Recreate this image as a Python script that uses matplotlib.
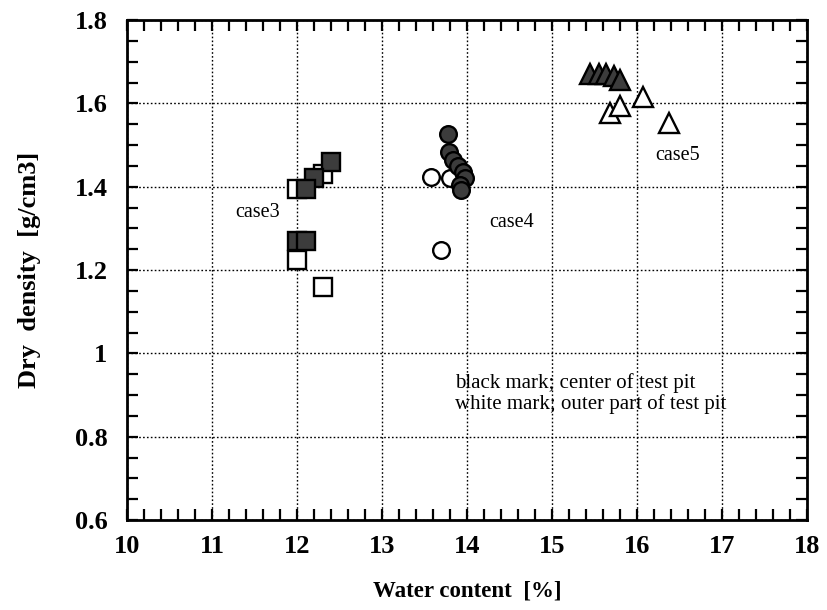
import matplotlib
matplotlib.use("Agg")
import matplotlib.pyplot as plt
from matplotlib.ticker import MultipleLocator, FixedLocator

# Water content [%] and dry density [g/cm3] for each test case
case3_center_w = [12.4, 12.2, 12.1, 12.0, 12.1]
case3_center_d = [1.46, 1.42, 1.395, 1.27, 1.27]
case3_outer_w = [12.3, 12.0, 12.0, 12.3]
case3_outer_d = [1.43, 1.395, 1.225, 1.16]

case4_center_w = [13.78, 13.79, 13.84, 13.90, 13.95, 13.98, 13.92, 13.93]
case4_center_d = [1.527, 1.483, 1.465, 1.450, 1.435, 1.420, 1.405, 1.393]
case4_outer_w = [13.58, 13.80, 13.69]
case4_outer_d = [1.423, 1.422, 1.248]

case5_center_w = [15.45, 15.55, 15.64, 15.73, 15.80]
case5_center_d = [1.670, 1.670, 1.670, 1.665, 1.655]
case5_outer_w = [15.68, 15.80, 16.07, 16.38]
case5_outer_d = [1.577, 1.594, 1.615, 1.553]

x_ticks = [10, 11, 12, 13, 14, 15, 16, 17, 18]
y_ticks = [0.6, 0.8, 1.0, 1.2, 1.4, 1.6, 1.8]
y_tick_labels = ["0.6", "0.8", "1", "1.2", "1.4", "1.6", "1.8"]

serif = ["Liberation Serif", "DejaVu Serif"]
plt.rcParams["font.family"] = serif

fig = plt.figure(figsize=(8.28, 6.10), dpi=100)
ax = fig.add_axes([0.1534, 0.1475, 0.8212, 0.8197])

fill = "#3c3c3c"
ew = 1.7

# outer-part (white) marks first, center (black) marks drawn over them
ax.plot(case3_outer_w, case3_outer_d, ls="none", marker="s", ms=12.5, mfc="white", mec="black", mew=ew, zorder=3)
ax.plot(case3_center_w, case3_center_d, ls="none", marker="s", ms=12.5, mfc=fill, mec="black", mew=ew, zorder=4)

ax.plot(case4_outer_w, case4_outer_d, ls="none", marker="o", ms=12, mfc="white", mec="black", mew=ew, zorder=3)
ax.plot(case4_center_w, case4_center_d, ls="none", marker="o", ms=12, mfc=fill, mec="black", mew=ew, zorder=4)

ax.plot(case5_outer_w, case5_outer_d, ls="none", marker="^", ms=14, mfc="white", mec="black", mew=ew, zorder=3)
ax.plot(case5_center_w, case5_center_d, ls="none", marker="^", ms=14, mfc=fill, mec="black", mew=ew, zorder=4)

ax.set_xlim(10, 18)
ax.set_ylim(0.6, 1.8)
ax.xaxis.set_major_locator(FixedLocator(x_ticks))
ax.yaxis.set_major_locator(FixedLocator(y_ticks))
ax.set_yticklabels(y_tick_labels)
ax.xaxis.set_minor_locator(MultipleLocator(0.2))
ax.yaxis.set_minor_locator(MultipleLocator(0.05))

ax.grid(True, which="major", color="black", linestyle=(0, (1.2, 1.6)), linewidth=1.0)
ax.set_axisbelow(True)

for sp in ax.spines.values():
    sp.set_linewidth(2.0)

ax.tick_params(which="both", direction="in", top=True, right=True, length=8, width=1.6)
ax.tick_params(which="major", labelsize=19, pad=11)
ax.tick_params(axis="y", which="major", pad=14)
for lbl in ax.get_xticklabels() + ax.get_yticklabels():
    lbl.set_fontweight("bold")

ax.set_xlabel("Water content  [%]", fontsize=16.5, fontweight="bold", labelpad=16)
ax.set_ylabel("Dry  density  [g/cm3]", fontsize=19, fontweight="bold", labelpad=24)

ax.text(11.54, 1.339, "case3", fontsize=14.5, ha="center", va="center")
ax.text(14.53, 1.315, "case4", fontsize=14.5, ha="center", va="center")
ax.text(16.48, 1.474, "case5", fontsize=14.5, ha="center", va="center")

ax.text(13.86, 0.929, "black mark; center of test pit", fontsize=15, ha="left", va="center")
ax.text(13.86, 0.879, "white mark; outer part of test pit", fontsize=15, ha="left", va="center")

fig.savefig("out.png", dpi=100)
